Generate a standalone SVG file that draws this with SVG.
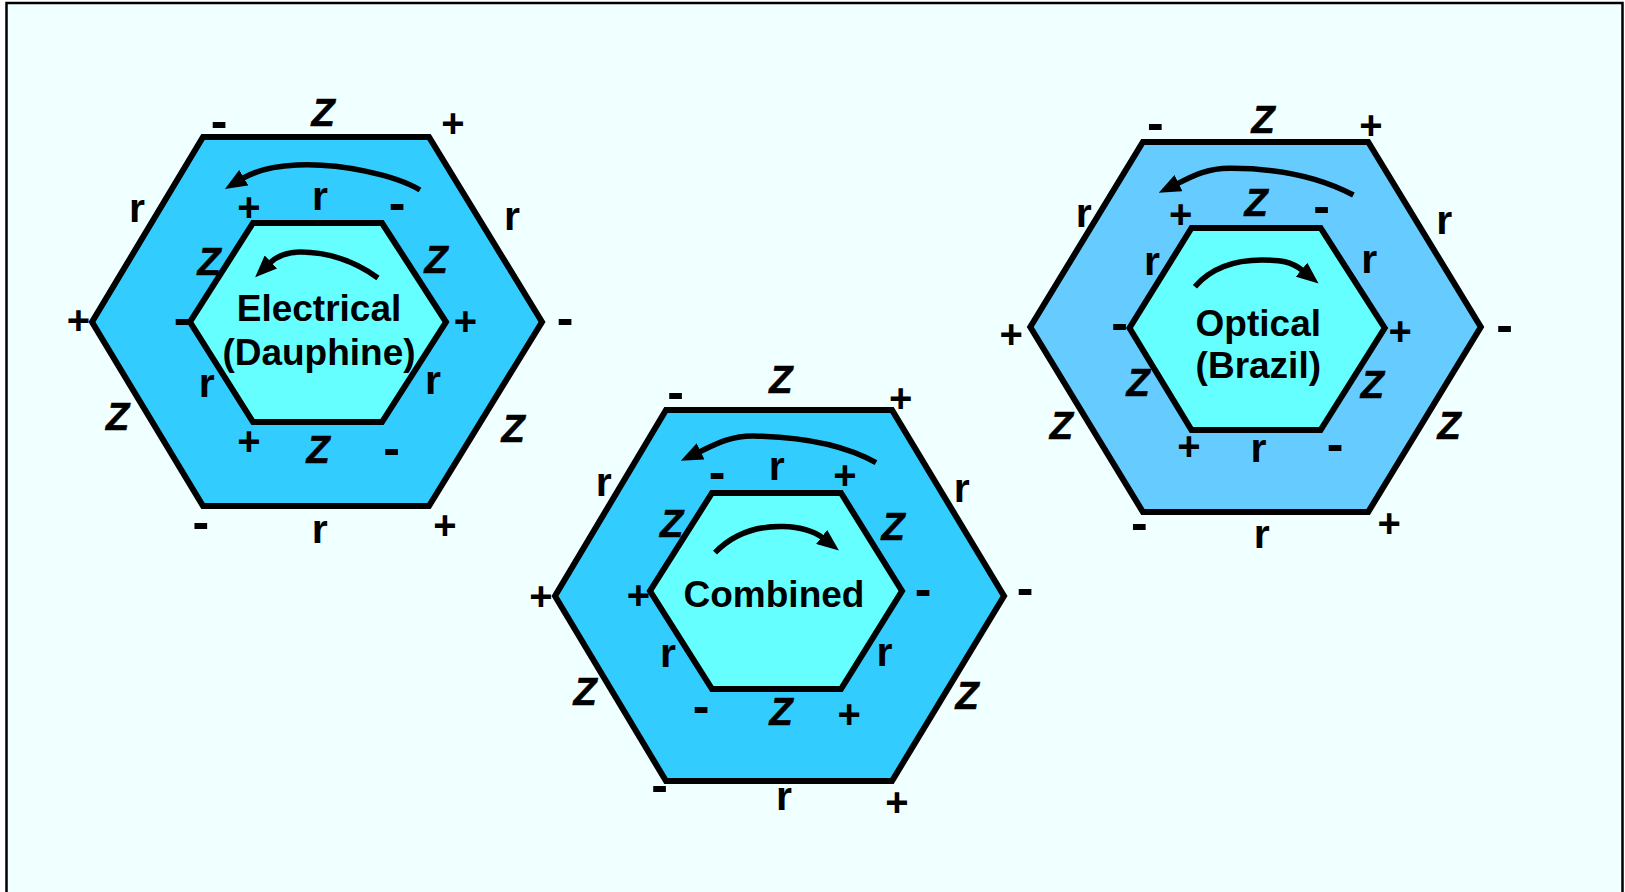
<svg xmlns="http://www.w3.org/2000/svg" width="1625" height="892" viewBox="0 0 1625 892">
<defs>
<marker id="ah" viewBox="0 0 22 18" refX="2" refY="9" markerWidth="22" markerHeight="18" markerUnits="userSpaceOnUse" orient="auto">
<path d="M0,0 L22,9 L0,18 z" fill="#000"/>
</marker>
<style>
.hex{stroke:#000;stroke-width:6;stroke-linejoin:miter}
.out{fill:#33CCFF}
.outo{fill:#66CCFF}
.in{fill:#66FFFF}
text{font-family:"Liberation Sans",Arial,sans-serif;font-weight:bold;fill:#000;text-anchor:middle}
.z{font-size:38px;font-style:italic;stroke:#000;stroke-width:0.6}
.r{font-size:41px}
.p{font-size:40px}
.m{font-size:50px}
.t{font-size:37px}
.arr{fill:none;stroke:#000;stroke-width:5.5;stroke-linejoin:round;marker-end:url(#ah)}
</style>
</defs>
<rect x="0" y="0" width="1625" height="892" fill="#fff"/>
<rect x="6.5" y="3" width="1616" height="900" fill="#F0FFFF" stroke="#000" stroke-width="2.5"/>

<g id="electrical">
<polygon class="hex out" points="203,137 429,137 542,322 429,506 203,506 92,322"/>
<polygon class="hex in" points="253,223 382,223 446,322 382,422 253,422 190,322"/>
<text class="t" x="319" y="321">Electrical</text>
<text class="t" x="319" y="365">(Dauphine)</text>
<text class="m" x="219" y="137.7">-</text>
<text class="z" x="323" y="126">Z</text>
<text class="p" x="453" y="136.6">+</text>
<text class="r" x="137" y="221.7">r</text>
<text class="r" x="512" y="230">r</text>
<text class="p" x="78.5" y="333.6">+</text>
<text class="m" x="565" y="334.7">-</text>
<text class="z" x="117.5" y="430">Z</text>
<text class="z" x="513" y="442">Z</text>
<text class="m" x="200.8" y="538.7">-</text>
<text class="r" x="319.7" y="543.3">r</text>
<text class="p" x="445" y="538.9">+</text>
<text class="p" x="249" y="220.6">+</text>
<text class="r" x="320" y="210">r</text>
<text class="m" x="397" y="219.7">-</text>
<text class="z" x="209" y="275">Z</text>
<text class="z" x="436" y="273">Z</text>
<text class="m" x="182" y="335.2">-</text>
<text class="p" x="465.5" y="334.6">+</text>
<text class="r" x="206.7" y="396.7">r</text>
<text class="r" x="433" y="394">r</text>
<text class="p" x="249" y="454.6">+</text>
<text class="z" x="318" y="463">Z</text>
<text class="m" x="391.7" y="464.7">-</text>
</g>

<g id="combined">
<polygon class="hex out" points="666,410 892,410 1004,596 892,781 666,781 555,596"/>
<polygon class="hex in" points="712,493 841,493 902,591 841,689 712,689 650,591"/>
<text class="t" x="774" y="607">Combined</text>
<text class="m" x="675.5" y="408.7">-</text>
<text class="z" x="780.8" y="393.3">Z</text>
<text class="p" x="900.7" y="412.4">+</text>
<text class="r" x="603.7" y="496">r</text>
<text class="r" x="961.7" y="501.7">r</text>
<text class="p" x="541" y="609.6">+</text>
<text class="m" x="1025" y="604.7">-</text>
<text class="z" x="585" y="705">Z</text>
<text class="z" x="967" y="709">Z</text>
<text class="m" x="659.5" y="801.7">-</text>
<text class="r" x="784" y="810">r</text>
<text class="p" x="897" y="816.1">+</text>
<text class="m" x="717" y="488.7">-</text>
<text class="r" x="776.7" y="480">r</text>
<text class="p" x="845" y="488.6">+</text>
<text class="z" x="671.7" y="536.7">Z</text>
<text class="z" x="893" y="540">Z</text>
<text class="p" x="638.5" y="608.6">+</text>
<text class="m" x="923" y="605.7">-</text>
<text class="r" x="668" y="667">r</text>
<text class="r" x="884.5" y="666">r</text>
<text class="m" x="701" y="722.7">-</text>
<text class="z" x="781" y="725">Z</text>
<text class="p" x="849.3" y="727.6">+</text>
</g>

<g id="optical">
<polygon class="hex outo" points="1142.9,142 1368.2,142 1480.8,327 1368.2,512 1142.9,512 1030.3,327"/>
<polygon class="hex in" points="1191.5,228 1320.6,228 1384.7,328 1320.6,430 1191.5,430 1129.5,328"/>
<text class="t" x="1258.3" y="336">Optical</text>
<text class="t" x="1258.3" y="378.3">(Brazil)</text>
<text class="m" x="1155.3" y="139.7">-</text>
<text class="z" x="1263.1" y="133.3">Z</text>
<text class="p" x="1371" y="138.9">+</text>
<text class="r" x="1083.8" y="227.3">r</text>
<text class="r" x="1444.3" y="234">r</text>
<text class="p" x="1011.2" y="347.8">+</text>
<text class="m" x="1504.5" y="342.2">-</text>
<text class="z" x="1061.3" y="439.3">Z</text>
<text class="z" x="1449.1" y="439.3">Z</text>
<text class="m" x="1139.3" y="539.5">-</text>
<text class="r" x="1261.7" y="548.3">r</text>
<text class="p" x="1389.1" y="536.8">+</text>
<text class="p" x="1180.6" y="227.8">+</text>
<text class="z" x="1256" y="216">Z</text>
<text class="m" x="1321.7" y="223">-</text>
<text class="r" x="1151.9" y="275">r</text>
<text class="r" x="1369.2" y="273.3">r</text>
<text class="m" x="1119.5" y="340.2">-</text>
<text class="p" x="1400.2" y="345.3">+</text>
<text class="z" x="1138.1" y="396">Z</text>
<text class="z" x="1372.3" y="398.3">Z</text>
<text class="p" x="1188.9" y="459.8">+</text>
<text class="r" x="1258.6" y="461.7">r</text>
<text class="m" x="1335.1" y="460.5">-</text>
</g>

<g id="connectors">
<path class="arr" d="M420,190 C395,175 340,163 297,165 C275,166 255,171 242.1,178.7"/>
<path class="arr" d="M378,278 C360,265 335,252 300,252 C288,252 277,256 269.5,263.3"/>
<path class="arr" d="M876,462.7 C850,448 810,437 753,436 C730,436 716,444 698.8,452.2"/>
<path class="arr" d="M715,552.7 C735,532 760,526 783,526.5 C800,527 814,531 823.2,538.2"/>
<path class="arr" d="M1353.4,195 C1325,180 1285,168 1229.4,168.3 C1206,168.5 1192,176.5 1176.7,184"/>
<path class="arr" d="M1194.9,286.7 C1212,267 1235,260 1262,260 C1280,260 1291,261 1303.1,270.9"/>
</g>
</svg>
